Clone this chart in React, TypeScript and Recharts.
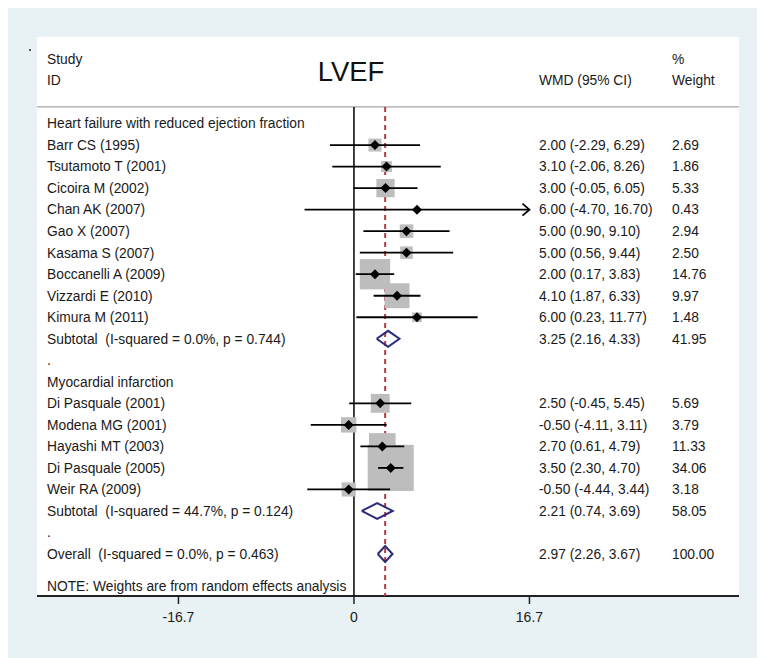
import { CartesianGrid, ComposedChart, Scatter, XAxis, YAxis } from "recharts";

// Heart failure with reduced ejection fraction
const hfStudies = [
  "Barr CS (1995)",
  "Tsutamoto T (2001)",
  "Cicoira M (2002)",
  "Chan AK (2007)",
  "Gao X (2007)",
  "Kasama S (2007)",
  "Boccanelli A (2009)",
  "Vizzardi E (2010)",
  "Kimura M (2011)",
];
const hfWmd = [2.0, 3.1, 3.0, 6.0, 5.0, 5.0, 2.0, 4.1, 6.0];
const hfLower = [-2.29, -2.06, -0.05, -4.7, 0.9, 0.56, 0.17, 1.87, 0.23];
const hfUpper = [6.29, 8.26, 6.05, 16.7, 9.1, 9.44, 3.83, 6.33, 11.77];
const hfWeight = [2.69, 1.86, 5.33, 0.43, 2.94, 2.5, 14.76, 9.97, 1.48];

// Myocardial infarction
const miStudies = [
  "Di Pasquale (2001)",
  "Modena MG (2001)",
  "Hayashi MT (2003)",
  "Di Pasquale (2005)",
  "Weir RA (2009)",
];
const miWmd = [2.5, -0.5, 2.7, 3.5, -0.5];
const miLower = [-0.45, -4.11, 0.61, 2.3, -4.44];
const miUpper = [5.45, 3.11, 4.79, 4.7, 3.44];
const miWeight = [5.69, 3.79, 11.33, 34.06, 3.18];

// subtotal (HF), subtotal (MI), overall
const pooledLabels = [
  "Subtotal  (I-squared = 0.0%, p = 0.744)",
  "Subtotal  (I-squared = 44.7%, p = 0.124)",
  "Overall  (I-squared = 0.0%, p = 0.463)",
];
const pooledWmd = [3.25, 2.21, 2.97];
const pooledLower = [2.16, 0.74, 2.26];
const pooledUpper = [4.33, 3.69, 3.67];
const pooledWeight = [41.95, 58.05, 100.0];

const groupTitles = ["Heart failure with reduced ejection fraction", "Myocardial infarction"];
const noteText = "NOTE: Weights are from random effects analysis";
const xTicks = [-16.7, 0, 16.7];

const FONT = "'Liberation Sans', Arial, Helvetica, sans-serif";
const W = 756;
const H = 650;
const X_DOMAIN: [number, number] = [-30.16, 36.64];
const Y_DOMAIN: [number, number] = [-4.02, 21.95];
const RULE_ROW = -0.77; // header separator
const BOX_SCALE = 7.9; // px per sqrt(weight)
const DIAMOND_HALF = 0.37; // pooled diamond half height, in rows
const NAVY = "#2b2a7c";

type Row = {
  x: number;
  y: number;
  label: string;
  kind: "header" | "title" | "study" | "pooled" | "blank" | "note";
  wmd?: number;
  lo?: number;
  hi?: number;
  weight?: number;
  wmdText?: string;
  weightText?: string;
};

const ci = (e: number, l: number, h: number) =>
  `${e.toFixed(2)} (${l.toFixed(2)}, ${h.toFixed(2)})`;

function pooledRow(i: number, y: number): Row {
  return {
    x: 0,
    y,
    label: pooledLabels[i],
    kind: "pooled",
    wmd: pooledWmd[i],
    lo: pooledLower[i],
    hi: pooledUpper[i],
    weight: pooledWeight[i],
    wmdText: ci(pooledWmd[i], pooledLower[i], pooledUpper[i]),
    weightText: pooledWeight[i].toFixed(2),
  };
}

function buildRows(): Row[] {
  const rows: Row[] = [
    { x: 0, y: -3, label: "Study", kind: "header", weightText: "%" },
    { x: 0, y: -2, label: "ID", kind: "header", wmdText: "WMD (95% CI)", weightText: "Weight" },
  ];
  let y = 0;
  const groups = [
    [hfStudies, hfWmd, hfLower, hfUpper, hfWeight],
    [miStudies, miWmd, miLower, miUpper, miWeight],
  ] as const;
  groups.forEach(([names, wmd, lo, hi, wt], g) => {
    rows.push({ x: 0, y: y++, label: groupTitles[g], kind: "title" });
    names.forEach((name, i) => {
      rows.push({
        x: 0,
        y: y++,
        label: name,
        kind: "study",
        wmd: wmd[i],
        lo: lo[i],
        hi: hi[i],
        weight: wt[i],
        wmdText: ci(wmd[i], lo[i], hi[i]),
        weightText: wt[i].toFixed(2),
      });
    });
    rows.push(pooledRow(g, y++));
    rows.push({ x: 0, y: y++, label: ".", kind: "blank" });
  });
  rows.push(pooledRow(2, y++));
  // the note sits a half row lower than the table rhythm
  rows.push({ x: 0, y: y + 0.5, label: noteText, kind: "note" });
  return rows;
}

const rows = buildRows();
const studies = rows.filter((r) => r.kind === "study");
const pooled = rows.filter((r) => r.kind === "pooled");
const truncated = studies.filter((r) => (r.hi as number) >= xTicks[2]);
const overall = pooledWmd[2];

const Empty = () => <g />;

function RowText(props: any) {
  const { cy, payload } = props;
  const r = payload as Row;
  const common = { y: cy, dy: "0.35em", style: { whiteSpace: "pre" as const } };
  return (
    <g fontFamily={FONT} fontSize={13.8} fill="#1a1a1a">
      <text x={39} {...common}>
        {r.label}
      </text>
      {r.wmdText && (
        <text x={531} {...common}>
          {r.wmdText}
        </text>
      )}
      {r.weightText && (
        <text x={664} {...common}>
          {r.weightText}
        </text>
      )}
    </g>
  );
}

function Title(props: any) {
  return (
    <text x={343} y={props.cy} dy="0.35em" textAnchor="middle" fontFamily={FONT} fontSize={27.5} fill="#111">
      LVEF
    </text>
  );
}

function WeightBox(props: any) {
  const { cx, cy, payload } = props;
  const s = BOX_SCALE * Math.sqrt(payload.weight);
  return <rect x={cx - s / 2} y={cy - s / 2} width={s} height={s} fill="#bdbdbd" />;
}

function Marker(props: any) {
  const { cx, cy } = props;
  const d = 5;
  return <path d={`M${cx - d},${cy}L${cx},${cy - d}L${cx + d},${cy}L${cx},${cy + d}Z`} fill="#000" />;
}

function Arrow(props: any) {
  const { cx, cy } = props;
  return (
    <path d={`M${cx - 7},${cy - 6}L${cx},${cy}L${cx - 7},${cy + 6}`} stroke="#000" strokeWidth={1.8} fill="none" />
  );
}

export default function App() {
  return (
    <div style={{ position: "relative", width: W, height: H, background: "#e8f1f4" }}>
      <div style={{ position: "absolute", left: 21, top: 41, width: 2, height: 2, background: "#555" }} />
      <ComposedChart width={W} height={H} margin={{ top: 29, right: 25, bottom: 22, left: 29 }}>
        <CartesianGrid fill="#ffffff" horizontal={false} vertical={false} />
        <XAxis
          type="number"
          dataKey="x"
          domain={X_DOMAIN}
          ticks={xTicks}
          allowDataOverflow
          height={40}
          tickSize={8}
          tickMargin={8}
          axisLine={{ stroke: "#222", strokeWidth: 2 }}
          tickLine={{ stroke: "#222", strokeWidth: 1.5 }}
          tick={{ fill: "#1a1a1a", fontSize: 14, fontFamily: FONT }}
        />
        <YAxis type="number" dataKey="y" domain={Y_DOMAIN} reversed hide allowDataOverflow />

        {/* header rule */}
        <Scatter
          data={[{ x: X_DOMAIN[0], y: RULE_ROW }, { x: X_DOMAIN[1], y: RULE_ROW }]}
          line={{ stroke: "#a6a6a6", strokeWidth: 1.2 }}
          shape={Empty}
          legendType="none"
          isAnimationActive={false}
        />
        {/* overall effect (dashed) and no-effect line */}
        <Scatter
          data={[{ x: overall, y: RULE_ROW }, { x: overall, y: Y_DOMAIN[1] }]}
          line={{ stroke: "#b43a3e", strokeWidth: 2, strokeDasharray: "5 4" }}
          shape={Empty}
          legendType="none"
          isAnimationActive={false}
        />
        <Scatter
          data={[{ x: 0, y: RULE_ROW }, { x: 0, y: Y_DOMAIN[1] }]}
          line={{ stroke: "#111", strokeWidth: 1.6 }}
          shape={Empty}
          legendType="none"
          isAnimationActive={false}
        />

        <Scatter
          data={studies.map((r) => ({ x: r.wmd, y: r.y, weight: r.weight }))}
          shape={WeightBox}
          legendType="none"
          isAnimationActive={false}
        />

        {studies.map((r) => (
          <Scatter
            key={`ci-${r.y}`}
            data={[{ x: r.lo, y: r.y }, { x: r.hi, y: r.y }]}
            line={{ stroke: "#000", strokeWidth: 1.8 }}
            shape={Empty}
            legendType="none"
            isAnimationActive={false}
          />
        ))}
        <Scatter
          data={truncated.map((r) => ({ x: r.hi, y: r.y }))}
          shape={Arrow}
          legendType="none"
          isAnimationActive={false}
        />
        <Scatter
          data={studies.map((r) => ({ x: r.wmd, y: r.y }))}
          shape={Marker}
          legendType="none"
          isAnimationActive={false}
        />

        {pooled.map((r) => (
          <Scatter
            key={`pool-${r.y}`}
            data={[
              { x: r.lo, y: r.y },
              { x: r.wmd, y: r.y - DIAMOND_HALF },
              { x: r.hi, y: r.y },
              { x: r.wmd, y: r.y + DIAMOND_HALF },
              { x: r.lo, y: r.y },
            ]}
            line={{ stroke: NAVY, strokeWidth: 2 }}
            shape={Empty}
            legendType="none"
            isAnimationActive={false}
          />
        ))}

        <Scatter data={rows} shape={RowText} legendType="none" isAnimationActive={false} />
        <Scatter data={[{ x: 0, y: -2.4 }]} shape={Title} legendType="none" isAnimationActive={false} />
      </ComposedChart>
    </div>
  );
}
